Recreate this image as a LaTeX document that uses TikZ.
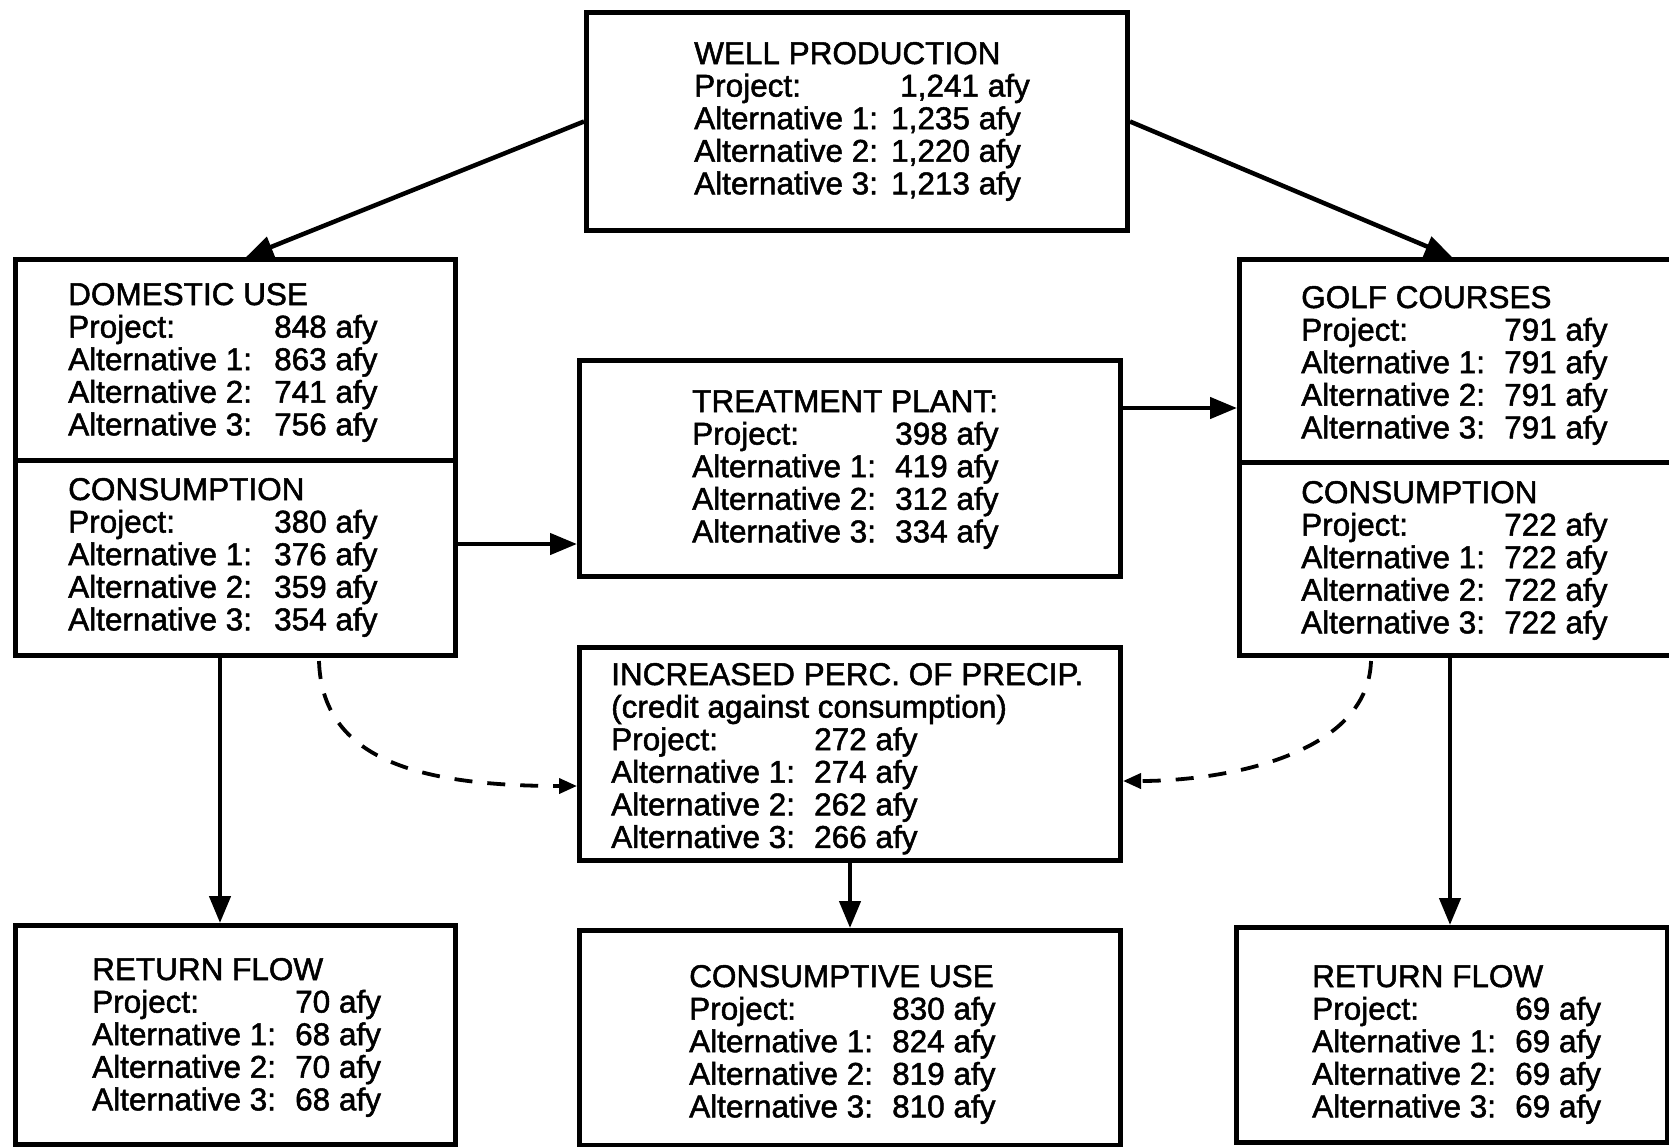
\documentclass[tikz,border=0pt]{standalone}
\usepackage{fontspec}
\setmainfont{Liberation Sans}[RawFeature={embolden=1.6}]
\usetikzlibrary{arrows.meta,calc}

% label column width inside the boxes
\newlength{\labw}
\setlength{\labw}{203pt}
\newcommand{\valrow}[2]{\makebox[\labw][l]{#1}#2}

\begin{document}
\begin{tikzpicture}[x=1pt,y=-1pt,
  box/.style={draw, line width=5pt, inner sep=0pt, anchor=north west},
  txt/.style={anchor=base west, inner sep=0pt, font=\fontsize{31.5}{32.5}\selectfont},
  flow/.style={line width=4.5pt, -{Triangle[length=27pt,width=21pt]}},
  credit/.style={line width=3.8pt, dash pattern=on 18pt off 15pt,
                 -{Triangle[length=18pt,width=15pt]}}
]
\useasboundingbox (0,0) rectangle (1669,1146);
\clip (0,0) rectangle (1669,1146);
\fill[white] (0,0) rectangle (1669,1146);

% ---------- boxes ----------
\node[box, minimum width=541pt, minimum height=218pt] (well)  at (584,10)  {};
\node[box, minimum width=440pt, minimum height=201pt] (domU)  at (13,257)  {};
\node[box, minimum width=440pt, minimum height=195pt] (domC)  at (13,458)  {};
\node[box, minimum width=541pt, minimum height=216pt] (treat) at (577,358) {};
\node[box, minimum width=470pt, minimum height=203pt] (golfU) at (1237,257) {};
\node[box, minimum width=470pt, minimum height=193pt] (golfC) at (1237,460) {};
\node[box, minimum width=541pt, minimum height=213pt] (perc)  at (577,645) {};
\node[box, minimum width=440pt, minimum height=219pt] (retL)  at (13,923)  {};
\node[box, minimum width=541pt, minimum height=215pt] (cuse)  at (577,928) {};
\node[box, minimum width=431pt, minimum height=215pt] (retR)  at (1234,925) {};

% ---------- texts ----------
\node[txt] (wellT) at (694,64) {\setlength{\labw}{197pt}\begin{tabular}[t]{@{}l@{}}
WELL PRODUCTION\\
\valrow{Project:}{\hspace{9pt}1,241 afy}\\
\valrow{Alternative 1:}{1,235 afy}\\
\valrow{Alternative 2:}{1,220 afy}\\
\valrow{Alternative 3:}{1,213 afy}
\end{tabular}};

\node[txt] (domUT) at (68,305) {\setlength{\labw}{206pt}\begin{tabular}[t]{@{}l@{}}
DOMESTIC USE\\
\valrow{Project:}{848 afy}\\
\valrow{Alternative 1:}{863 afy}\\
\valrow{Alternative 2:}{741 afy}\\
\valrow{Alternative 3:}{756 afy}
\end{tabular}};

\node[txt] (domCT) at (68,500) {\setlength{\labw}{206pt}\begin{tabular}[t]{@{}l@{}}
CONSUMPTION\\
\valrow{Project:}{380 afy}\\
\valrow{Alternative 1:}{376 afy}\\
\valrow{Alternative 2:}{359 afy}\\
\valrow{Alternative 3:}{354 afy}
\end{tabular}};

\node[txt] (treatT) at (692,412) {\begin{tabular}[t]{@{}l@{}}
TREATMENT PLANT:\\
\valrow{Project:}{398 afy}\\
\valrow{Alternative 1:}{419 afy}\\
\valrow{Alternative 2:}{312 afy}\\
\valrow{Alternative 3:}{334 afy}
\end{tabular}};

\node[txt] (golfUT) at (1301,308) {\begin{tabular}[t]{@{}l@{}}
GOLF COURSES\\
\valrow{Project:}{791 afy}\\
\valrow{Alternative 1:}{791 afy}\\
\valrow{Alternative 2:}{791 afy}\\
\valrow{Alternative 3:}{791 afy}
\end{tabular}};

\node[txt] (golfCT) at (1301,503) {\begin{tabular}[t]{@{}l@{}}
CONSUMPTION\\
\valrow{Project:}{722 afy}\\
\valrow{Alternative 1:}{722 afy}\\
\valrow{Alternative 2:}{722 afy}\\
\valrow{Alternative 3:}{722 afy}
\end{tabular}};

\node[txt] (percT) at (611,685) {\begin{tabular}[t]{@{}l@{}}
INCREASED PERC. OF PRECIP.\\
(credit against consumption)\\
\valrow{Project:}{272 afy}\\
\valrow{Alternative 1:}{274 afy}\\
\valrow{Alternative 2:}{262 afy}\\
\valrow{Alternative 3:}{266 afy}
\end{tabular}};

\node[txt] (retLT) at (92,980) {\begin{tabular}[t]{@{}l@{}}
RETURN FLOW\\
\valrow{Project:}{70 afy}\\
\valrow{Alternative 1:}{68 afy}\\
\valrow{Alternative 2:}{70 afy}\\
\valrow{Alternative 3:}{68 afy}
\end{tabular}};

\node[txt] (cuseT) at (689,987) {\begin{tabular}[t]{@{}l@{}}
CONSUMPTIVE USE\\
\valrow{Project:}{830 afy}\\
\valrow{Alternative 1:}{824 afy}\\
\valrow{Alternative 2:}{819 afy}\\
\valrow{Alternative 3:}{810 afy}
\end{tabular}};

\node[txt] (retRT) at (1312,987) {\begin{tabular}[t]{@{}l@{}}
RETURN FLOW\\
\valrow{Project:}{69 afy}\\
\valrow{Alternative 1:}{69 afy}\\
\valrow{Alternative 2:}{69 afy}\\
\valrow{Alternative 3:}{69 afy}
\end{tabular}};

% ---------- connectors ----------
\coordinate (yDT) at (0,544);
\coordinate (yTG) at (0,408);
\coordinate (xL)  at (220,0);
\coordinate (xR)  at (1450,0);
\coordinate (yCL) at (0,786);
\coordinate (yCR) at (0,781);

\draw[flow] (well.west) -- ($(domU.north west)+(233,0)$);
\draw[flow] (well.east) -- ($(golfU.north west)+(215,0)$);
\draw[flow] (domC.east |- yDT) -- (treat.west |- yDT);
\draw[flow] (treat.east |- yTG) -- (golfU.west |- yTG);
\draw[flow] (domC.south -| xL) -- (retL.north -| xL);
\draw[flow] (golfC.south -| xR) -- (retR.north -| xR);
\draw[flow] (perc.south) -- (cuse.north);

\draw[credit] ($(domC.south west)+(306,3)$)
  .. controls (322,760) and (420,786) .. (perc.west |- yCL);
\draw[credit] ($(golfC.south west)+(134,3)$)
  .. controls (1368,755) and (1225,781) .. (perc.east |- yCR);
\end{tikzpicture}
\end{document}
